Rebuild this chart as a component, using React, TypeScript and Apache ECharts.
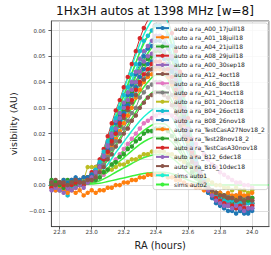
import React, { useEffect, useRef } from 'react';
import * as echarts from 'echarts';

const RA = [22.75,22.775,22.8,22.825,22.85,22.875,22.9,22.925,22.95,22.975,23.0,23.025,23.05,23.075,23.1,23.125,23.15,23.175,23.2,23.225,23.25,23.275,23.3,23.325,23.35,23.375,23.4,23.425,23.45,23.475,23.5,23.525,23.55,23.575,23.6,23.625,23.65,23.675,23.7,23.725,23.75,23.775,23.8,23.825,23.85,23.875,23.9,23.925,23.95,23.975,24.0];
const SIM_RA = [22.75,22.8,22.85,22.9,22.95,23.0,23.05,23.1,23.15,23.2,23.25,23.3,23.35,23.4,23.45,23.5,23.55,23.6,23.65,23.7,23.75,23.8,23.85,23.9,23.95,24.0,24.05,24.1];

const X_TICKS = ['22.8','23.0','23.2','23.4','23.6','23.8','24.0'];
const Y_TICKS = ['−0.01','0.00','0.01','0.02','0.03','0.04','0.05','0.06'];

const a00_17juill18 = [0.001,0.000,-0.001,0.001,0.000,0.001,0.001,0.002,0.002,0.003,
 0.004,0.006,0.008,0.011,0.016,0.020,0.024,0.027,0.031,0.035,
 0.039,0.043,0.047,0.050,0.053,0.054,0.056,0.056,0.055,0.053,
 0.049,0.043,0.036,0.029,0.021,0.015,0.009,0.005,0.002,-0.002,
 -0.004,-0.005,-0.006,-0.007,-0.008,-0.008,-0.009,-0.010,-0.009,-0.010,
 -0.009];
const a01_18juil18 = [0.000,-0.001,-0.002,-0.001,-0.001,0.000,-0.001,0.000,0.001,0.001,
 0.002,0.004,0.006,0.008,0.012,0.015,0.018,0.021,0.024,0.027,
 0.030,0.034,0.037,0.040,0.042,0.043,0.045,0.045,0.044,0.042,
 0.039,0.034,0.029,0.023,0.017,0.011,0.007,0.003,0.001,-0.001,
 -0.002,-0.003,-0.003,-0.004,-0.004,-0.005,-0.005,-0.004,-0.005,-0.006,
 -0.005];
const a04_21juil18 = [0.002,0.001,0.000,0.001,0.002,0.001,0.000,0.001,0.002,0.003,
 0.004,0.005,0.008,0.011,0.015,0.018,0.022,0.026,0.029,0.032,
 0.036,0.040,0.044,0.047,0.049,0.050,0.052,0.052,0.051,0.049,
 0.045,0.040,0.034,0.027,0.020,0.014,0.008,0.005,0.001,-0.002,
 -0.003,-0.004,-0.005,-0.006,-0.006,-0.007,-0.006,-0.007,-0.008,-0.007,
 -0.007];
const a08_29juil18 = [0.000,0.001,0.000,-0.001,0.000,0.001,0.001,0.001,0.002,0.003,
 0.005,0.007,0.010,0.014,0.019,0.024,0.029,0.033,0.038,0.042,
 0.047,0.052,0.057,0.061,0.064,0.066,0.068,0.068,0.067,0.064,
 0.059,0.052,0.044,0.035,0.026,0.018,0.011,0.006,0.002,-0.001,
 -0.003,-0.004,-0.005,-0.005,-0.006,-0.006,-0.007,-0.006,-0.007,-0.006,
 -0.007];
const a00_30sep18 = [-0.001,-0.002,-0.001,0.000,-0.002,-0.001,0.000,0.000,0.001,0.002,
 0.004,0.006,0.008,0.012,0.016,0.020,0.025,0.028,0.032,0.036,
 0.040,0.044,0.049,0.052,0.054,0.056,0.058,0.058,0.057,0.054,
 0.050,0.045,0.038,0.030,0.022,0.015,0.009,0.005,0.001,-0.002,
 -0.004,-0.005,-0.006,-0.007,-0.007,-0.008,-0.007,-0.008,-0.008,-0.007,
 -0.008];
const a12_4oct18 = [0.001,0.002,0.001,0.000,0.001,0.002,0.001,0.002,0.003,0.003,
 0.004,0.005,0.007,0.010,0.013,0.016,0.020,0.023,0.026,0.029,
 0.032,0.035,0.039,0.041,0.043,0.045,0.046,0.046,0.045,0.043,
 0.040,0.035,0.030,0.024,0.018,0.012,0.007,0.004,0.001,-0.001,
 -0.003,-0.004,-0.004,-0.005,-0.006,-0.005,-0.006,-0.006,-0.007,-0.006,
 -0.006];
const a16_8oct18 = [0.000,-0.001,0.000,0.001,0.000,-0.001,0.000,0.001,0.001,0.001,
 0.002,0.002,0.003,0.004,0.006,0.008,0.010,0.012,0.014,0.016,
 0.018,0.020,0.022,0.024,0.025,0.026,0.027,0.028,0.028,0.028,
 0.027,0.026,0.024,0.022,0.020,0.018,0.016,0.014,0.012,0.010,
 0.008,0.007,0.005,0.004,0.003,0.002,0.001,0.001,0.000,0.000,
 -0.001];
const a21_14oct18 = [0.000,0.001,0.000,0.000,-0.001,0.000,0.001,0.000,0.001,0.002,
 0.003,0.004,0.006,0.008,0.011,0.014,0.017,0.020,0.022,0.025,
 0.028,0.030,0.034,0.036,0.038,0.039,0.040,0.040,0.039,0.038,
 0.035,0.031,0.026,0.021,0.015,0.010,0.006,0.004,0.001,-0.001,
 -0.002,-0.003,-0.003,-0.004,-0.004,-0.005,-0.004,-0.005,-0.005,-0.004,
 -0.005];
const b01_20oct18 = [0.001,0.000,0.001,0.002,0.001,0.000,0.001,0.001,0.002,0.007,
 0.007,0.007,0.006,0.005,0.006,0.006,0.007,0.008,0.008,0.009,
 0.010,0.010,0.011,0.012,0.012,0.013,0.013,0.013,0.013,0.012,
 0.012,0.011,0.010,0.009,0.008,0.007,0.006,0.005,0.003,0.002,
 0.001,0.000,0.000,-0.001,-0.001,-0.002,-0.001,-0.002,-0.002,-0.003,
 -0.002];
const b04_26oct18 = [0.000,-0.001,-0.002,-0.002,-0.004,-0.001,0.000,0.001,0.001,0.002,
 0.004,0.006,0.009,0.013,0.017,0.022,0.026,0.030,0.035,0.038,
 0.043,0.047,0.052,0.056,0.058,0.060,0.062,0.062,0.061,0.058,
 0.054,0.048,0.040,0.032,0.024,0.016,0.010,0.006,0.002,-0.001,
 -0.003,-0.004,-0.005,-0.006,-0.006,-0.006,-0.007,-0.007,-0.006,-0.007,
 -0.007];
const b08_26nov18 = [0.001,0.000,0.001,0.002,0.001,0.002,0.003,0.002,0.003,0.003,
 0.004,0.005,0.007,0.010,0.014,0.018,0.021,0.025,0.028,0.031,
 0.035,0.038,0.042,0.045,0.047,0.048,0.050,0.050,0.049,0.047,
 0.044,0.039,0.033,0.026,0.019,0.013,0.008,0.004,0.000,-0.003,
 -0.005,-0.007,-0.008,-0.009,-0.010,-0.010,-0.011,-0.010,-0.011,-0.011,
 -0.010];
const testCasA27Nov18_2 = [-0.001,-0.002,-0.001,-0.002,-0.003,-0.002,-0.003,-0.002,-0.004,-0.003,
 -0.002,-0.003,-0.002,-0.002,-0.001,-0.001,0.000,0.000,0.001,0.001,
 0.002,0.002,0.003,0.003,0.004,0.004,0.004,0.004,0.004,0.003,
 0.003,0.002,0.002,0.001,0.000,0.000,-0.001,-0.001,-0.002,-0.002,
 -0.003,-0.003,-0.003,-0.004,-0.003,-0.004,-0.004,-0.003,-0.004,-0.004,
 -0.003];
const test28nov18_2 = [0.000,0.001,0.000,-0.001,0.000,0.001,0.000,0.000,0.001,0.001,
 0.002,0.002,0.003,0.005,0.006,0.008,0.009,0.011,0.012,0.014,
 0.015,0.017,0.018,0.020,0.021,0.021,0.022,0.022,0.022,0.021,
 0.019,0.017,0.014,0.011,0.008,0.005,0.003,0.001,0.000,-0.001,
 -0.002,-0.003,-0.004,-0.004,-0.005,-0.005,-0.006,-0.005,-0.006,-0.006,
 -0.005];
const testCasA30nov18 = [-0.001,0.000,0.001,0.000,-0.001,0.000,0.001,0.001,0.000,0.002,
 0.003,0.005,0.007,0.010,0.013,0.017,0.020,0.024,0.027,0.030,
 0.033,0.037,0.040,0.043,0.045,0.047,0.048,0.048,0.047,0.045,
 0.042,0.037,0.031,0.025,0.018,0.013,0.008,0.004,0.001,-0.002,
 -0.004,-0.005,-0.006,-0.007,-0.008,-0.008,-0.009,-0.008,-0.009,-0.009,
 -0.008];
const b12_6dec18 = [-0.002,-0.001,-0.002,-0.003,-0.001,-0.002,-0.001,0.000,-0.001,0.001,
 0.003,0.005,0.007,0.011,0.015,0.019,0.022,0.026,0.030,0.033,
 0.037,0.040,0.044,0.048,0.050,0.051,0.053,0.053,0.052,0.050,
 0.046,0.041,0.034,0.028,0.020,0.014,0.008,0.005,0.001,-0.002,
 -0.004,-0.006,-0.007,-0.008,-0.008,-0.009,-0.008,-0.009,-0.010,-0.009,
 -0.009];
const b16_10dec18 = [0.001,0.000,0.001,0.001,0.000,0.001,0.002,0.001,0.001,0.002,
 0.002,0.003,0.005,0.007,0.010,0.012,0.015,0.017,0.020,0.022,
 0.025,0.027,0.030,0.032,0.034,0.035,0.036,0.036,0.035,0.034,
 0.031,0.028,0.023,0.019,0.014,0.009,0.006,0.003,0.001,-0.001,
 -0.002,-0.003,-0.004,-0.004,-0.005,-0.005,-0.006,-0.005,-0.006,-0.005,
 -0.006];

const sim066 = [0,0.0001,0.0003,0.0008,0.002,0.0046,0.0096,0.0178,0.0277,0.037,0.0462,0.0548,0.0614,0.0653,0.0653,0.0581,0.0436,0.0264,0.0112,0.0026,0,0,0,0,0,0,0,0];
const sim062 = [0,0.0001,0.0003,0.0007,0.0019,0.0043,0.009,0.0167,0.026,0.0347,0.0434,0.0515,0.0577,0.0614,0.0614,0.0546,0.0409,0.0248,0.0105,0.0025,0,0,0,0,0,0,0,0];
const sim058 = [0,0.0001,0.0003,0.0007,0.0017,0.0041,0.0084,0.0157,0.0244,0.0325,0.0406,0.0481,0.0539,0.0574,0.0574,0.051,0.0383,0.0232,0.0099,0.0023,0,0,0,0,0,0,0,0];
const sim055 = [0,0.0001,0.0003,0.0007,0.0017,0.0039,0.008,0.0149,0.0231,0.0308,0.0385,0.0457,0.0512,0.0545,0.0545,0.0484,0.0363,0.022,0.0094,0.0022,0,0,0,0,0,0,0,0];
const sim051 = [0,0.0001,0.0003,0.0006,0.0015,0.0036,0.0074,0.0138,0.0214,0.0286,0.0357,0.0423,0.0474,0.0505,0.0505,0.0449,0.0337,0.0204,0.0087,0.002,0,0,0,0,0,0,0,0];
const sim047 = [0,0.0001,0.0002,0.0006,0.0014,0.0033,0.0068,0.0127,0.0197,0.0263,0.0329,0.039,0.0437,0.0465,0.0465,0.0414,0.031,0.0188,0.008,0.0019,0,0,0,0,0,0,0,0];
const sim043 = [0,0.0001,0.0002,0.0005,0.0013,0.003,0.0062,0.0116,0.0181,0.0241,0.0301,0.0357,0.04,0.0426,0.0426,0.0378,0.0284,0.0172,0.0073,0.0017,0,0,0,0,0,0,0,0];
const sim037 = [0,0.0001,0.0002,0.0004,0.0011,0.0026,0.0054,0.01,0.0155,0.0207,0.0259,0.0307,0.0344,0.0366,0.0366,0.0326,0.0244,0.0148,0.0063,0.0015,0,0,0,0,0,0,0,0];
const sim030 = [0,0.0001,0.0002,0.0004,0.0009,0.0021,0.0044,0.0081,0.0126,0.0168,0.021,0.0249,0.0279,0.0297,0.0297,0.0264,0.0198,0.012,0.0051,0.0012,0,0,0,0,0,0,0,0];
const sim024 = [0,0,0.0001,0.0003,0.0007,0.0017,0.0035,0.0065,0.0101,0.0134,0.0168,0.0199,0.0223,0.0238,0.0238,0.0211,0.0158,0.0096,0.0041,0.001,0,0,0,0,0,0,0,0];
const sim019 = [0,0,0.0001,0.0002,0.0006,0.0013,0.0028,0.0051,0.008,0.0106,0.0133,0.0158,0.0177,0.0188,0.0188,0.0167,0.0125,0.0076,0.0032,0.0008,0,0,0,0,0,0,0,0];
const sim012 = [0,0,0.0001,0.0001,0.0004,0.0008,0.0017,0.0032,0.005,0.0067,0.0084,0.01,0.0112,0.0119,0.0119,0.0106,0.0079,0.0048,0.002,0.0005,0,0,0,0,0,0,0,0];
const sim005 = [0,0,0,0.0001,0.0002,0.0004,0.0007,0.0014,0.0021,0.0028,0.0035,0.0042,0.0047,0.005,0.005,0.0044,0.0033,0.002,0.0009,0.0002,0,0,0,0,0,0,0,0];

const AUTO_NAMES = [
  'auto a ra_A00_17juill18','auto a ra_A01_18juil18','auto a ra_A04_21juil18','auto a ra_A08_29juil18',
  'auto a ra_A00_30sep18','auto a ra_A12_4oct18','auto a ra_A16_8oct18','auto a ra_A21_14oct18',
  'auto a ra_B01_20oct18','auto a ra_B04_26oct18','auto a ra_B08_26nov18','auto a ra_TestCasA27Nov18_2',
  'auto a ra_Test28nov18_2','auto a ra_TestCasA30nov18','auto a ra_B12_6dec18','auto a ra_B16_10dec18'
];
const AUTO_VALUES = [a00_17juill18,a01_18juil18,a04_21juil18,a08_29juil18,a00_30sep18,a12_4oct18,a16_8oct18,a21_14oct18,
  b01_20oct18,b04_26oct18,b08_26nov18,testCasA27Nov18_2,test28nov18_2,testCasA30nov18,b12_6dec18,b16_10dec18];
const SIM_NAMES = ['sims auto1','sims auto2','sims auto1','sims auto2','sims auto2','sims auto1','sims auto2','sims auto2','sims auto1','sims auto2','sims auto2','sims auto2','sims auto2'];
const SIM_VALUES = [sim066,sim062,sim058,sim055,sim051,sim047,sim043,sim037,sim030,sim024,sim019,sim012,sim005];

const PALETTE = ['#1f77b4','#ff7f0e','#2ca02c','#d62728','#9467bd','#8c564b','#e377c2','#7f7f7f','#bcbd22','#17becf'];
const SIM_COLORS: Record<string, string> = { 'sims auto1': '#1ef0d2', 'sims auto2': '#3cf03c' };
const FONT = 'DejaVu Sans';

export default function App() {
  const ref = useRef<HTMLDivElement>(null);
  useEffect(() => {
    const chart = echarts.init(ref.current!, null, { renderer: 'svg' });
    const series: any[] = [];
    AUTO_VALUES.forEach((vals, s) => {
      const color = PALETTE[s % 10];
      series.push({
        type: 'line', name: AUTO_NAMES[s],
        data: RA.map((x, i) => [x, vals[i]]),
        symbol: 'circle', symbolSize: 4.5, showSymbol: true,
        lineStyle: { width: 1, color }, itemStyle: { color },
        silent: true, emphasis: { disabled: true },
      });
    });
    SIM_VALUES.forEach((vals, s) => {
      const color = SIM_COLORS[SIM_NAMES[s]];
      series.push({
        type: 'line', name: SIM_NAMES[s],
        data: SIM_RA.map((x, i) => [x, vals[i]]),
        symbol: 'none', smooth: 0.3,
        lineStyle: { width: 1.5, color }, itemStyle: { color },
        silent: true, emphasis: { disabled: true },
      });
    });
    const fmtY = (v: number) => {
      if (Math.abs(v) < 1e-9) return Y_TICKS[1];
      const s = Math.abs(v).toFixed(2);
      const lab = v < 0 ? '−' + s : s;
      return Y_TICKS.includes(lab) ? lab : '';
    };
    const fmtX = (v: number) => {
      const lab = v.toFixed(1);
      return X_TICKS.includes(lab) ? lab : '';
    };
    chart.setOption({
      animation: false,
      textStyle: { fontFamily: FONT },
      title: {
        text: '1Hx3H autos at 1398 MHz [w=8]', left: 56, top: 5, padding: 0,
        textStyle: { fontFamily: FONT, fontSize: 12, fontWeight: 'normal', color: '#111' },
      },
      grid: { left: 43, right: 2, top: 21, bottom: 22, show: true, borderColor: '#333', borderWidth: 0.8, backgroundColor: 'transparent' },
      xAxis: {
        type: 'value', min: 22.749, max: 24.105, minInterval: 0.2, maxInterval: 0.2, splitNumber: 6,
        name: 'RA (hours)', nameLocation: 'middle', nameGap: 13,
        nameTextStyle: { fontFamily: FONT, fontSize: 9.8, color: '#222' },
        axisLine: { show: true, onZero: false, lineStyle: { color: '#333', width: 0.8 } },
        axisTick: { show: true, length: 3, inside: false, lineStyle: { color: '#333', width: 0.8 } },
        axisLabel: { formatter: fmtX, fontSize: 5.6, color: '#333', margin: 2.5, showMinLabel: false, showMaxLabel: false, fontFamily: FONT },
        splitLine: { show: true, lineStyle: { color: '#d5d5d5', width: 0.8 } },
      },
      yAxis: {
        type: 'value', min: -0.0161, max: 0.0637, minInterval: 0.01, maxInterval: 0.01, splitNumber: 8,
        name: 'visibility (AU)', nameLocation: 'middle', nameGap: 24,
        nameTextStyle: { fontFamily: FONT, fontSize: 9.5, color: '#222' },
        axisLine: { show: true, onZero: false, lineStyle: { color: '#333', width: 0.8 } },
        axisTick: { show: true, length: 3, inside: false, lineStyle: { color: '#333', width: 0.8 } },
        axisLabel: { formatter: fmtY, fontSize: 5.4, color: '#333', margin: 6, showMinLabel: false, showMaxLabel: false, fontFamily: FONT },
        splitLine: { show: true, lineStyle: { color: '#d5d5d5', width: 0.8 } },
      },
      legend: {
        orient: 'vertical', left: 153, top: 23,
        itemWidth: 13, itemHeight: 5, itemGap: 3,
        padding: [2, 3, 2, 2],
        backgroundColor: 'rgba(255,255,255,0.8)', borderColor: '#cccccc', borderWidth: 0.8, borderRadius: 2.5,
        textStyle: { fontFamily: FONT, fontSize: 6, color: '#222', lineHeight: 6.2, padding: 0 },
        data: [...AUTO_NAMES, 'sims auto1', 'sims auto2'],
        selectedMode: false,
      },
      series,
    });
    return () => chart.dispose();
  }, []);
  return <div ref={ref} style={{ position: 'absolute', left: 0, top: 0, width: 271, height: 255 }} />;
}
